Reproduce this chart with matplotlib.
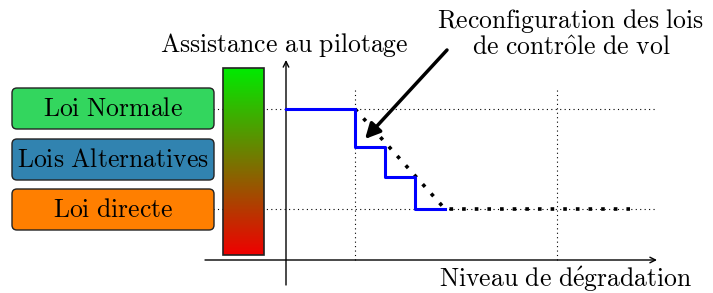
import numpy as np
import matplotlib as mpl
import matplotlib.pyplot as plt
from matplotlib.patches import FancyBboxPatch

mpl.rcParams['mathtext.fontset'] = 'cm'
mpl.rcParams['mathtext.rm'] = 'serif'

# step response of the control laws (x: degradation, y: assistance)
step_x = [0, 69, 69, 99, 99, 129, 129, 159]
step_y = [151, 151, 113, 113, 83, 83, 51, 51]
trend_x = [69, 159, 344]
trend_y = [151, 51, 51]
grid_x = [69, 271]
grid_y = [151, 51]

laws = ['Loi Normale', 'Lois Alternatives', 'Loi directe']
law_colors = ['#33d65e', '#3183b0', '#ff7f00']
law_y0 = [131, 80, 30]

fs = 18.5


def tex(s):
    s = s.replace(' ', r'\ ').replace('é', r'\acute{e}').replace('ô', r'\hat{o}')
    return r'$\mathrm{' + s + '}$'


fig = plt.figure(figsize=(7.13, 2.93), dpi=100)
ax = fig.add_axes([0, 0, 1, 1])
ax.set_xlim(-286, 427)
ax.set_ylim(-33, 260)
ax.axis('off')

# dotted grid
for gx in grid_x:
    ax.plot([gx, gx], [0, 170], color='k', lw=0.8, ls=(0, (1, 3)))
for gy in grid_y:
    ax.plot([-73, 371], [gy, gy], color='k', lw=0.8, ls=(0, (1, 3)))

# axes
ax.annotate('', xy=(371, 0), xytext=(-81, 0),
            arrowprops=dict(arrowstyle='->', lw=1.0, color='k', shrinkA=0, shrinkB=0))
ax.annotate('', xy=(0, 200), xytext=(0, -25),
            arrowprops=dict(arrowstyle='->', lw=1.0, color='k', shrinkA=0, shrinkB=0))

# colour bar green -> red
grad = np.linspace(0, 1, 256)[:, None]
cols = np.zeros((256, 1, 3))
cols[:, 0, 0] = 0.94 * (1 - grad[:, 0])
cols[:, 0, 1] = 0.92 * grad[:, 0]
ax.imshow(cols, extent=(-63, -22, 5, 192), origin='lower', aspect='auto', zorder=3)
ax.add_patch(plt.Rectangle((-63, 5), 41, 187, fill=False, ec='#222222', lw=1.2, zorder=4))

# law boxes
for name, c, y0 in zip(laws, law_colors, law_y0):
    ax.add_patch(FancyBboxPatch((-274, y0), 202, 41, boxstyle='round,pad=0,rounding_size=5',
                                fc=c, ec='#222222', lw=1.0, zorder=3))
    ax.text(-173, y0 + 13, tex(name), ha='center', va='baseline', fontsize=fs, zorder=4)

# curves
ax.plot(trend_x, trend_y, color='k', lw=2.6, ls=(0, (1, 2.5)), zorder=5)
ax.plot(step_x, step_y, color='#0000ff', lw=2.2, zorder=6)

# labels
ax.text(-2, 208, tex('Assistance au pilotage'), ha='center', va='baseline', fontsize=fs)
ax.text(280, -27, tex('Niveau de dégradation'), ha='center', va='baseline', fontsize=fs)
ax.text(285, 232, tex('Reconfiguration des lois'), ha='center', va='baseline', fontsize=fs)
ax.text(285, 205, tex('de contrôle de vol'), ha='center', va='baseline', fontsize=fs)
ax.annotate('', xy=(79, 121), xytext=(161, 210),
            arrowprops=dict(arrowstyle='-|>,head_length=0.9,head_width=0.45', lw=2.5, color='k',
                            shrinkA=0, shrinkB=0))

plt.savefig('out.png', dpi=100)
